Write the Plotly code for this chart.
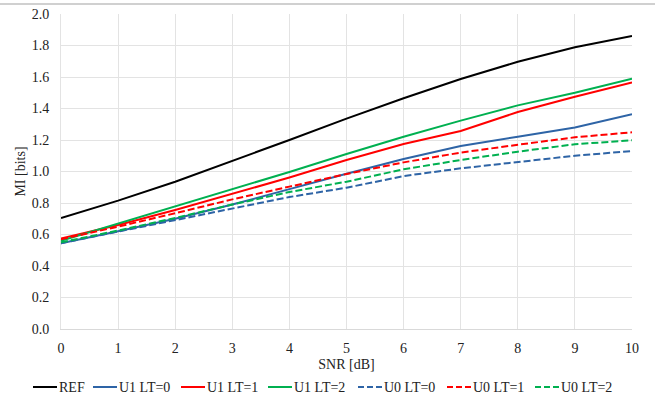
import plotly.graph_objects as go

snr = [0, 1, 2, 3, 4, 5, 6, 7, 8, 9, 10]

ref = [0.705, 0.815, 0.935, 1.065, 1.200, 1.336, 1.465, 1.587, 1.697, 1.789, 1.860]
u1_lt0 = [0.545, 0.620, 0.700, 0.790, 0.888, 0.986, 1.079, 1.162, 1.221, 1.280, 1.363]
u1_lt1 = [0.575, 0.660, 0.755, 0.858, 0.962, 1.073, 1.175, 1.257, 1.378, 1.475, 1.566]
u1_lt2 = [0.560, 0.670, 0.775, 0.885, 0.997, 1.111, 1.221, 1.323, 1.420, 1.500, 1.589]
u0_lt0 = [0.545, 0.618, 0.695, 0.768, 0.838, 0.897, 0.971, 1.020, 1.062, 1.100, 1.130]
u0_lt1 = [0.570, 0.650, 0.735, 0.823, 0.904, 0.984, 1.058, 1.120, 1.170, 1.217, 1.249]
u0_lt2 = [0.550, 0.625, 0.705, 0.790, 0.870, 0.935, 1.014, 1.073, 1.126, 1.173, 1.198]

names = ["REF", "U1 LT=0", "U1 LT=1", "U1 LT=2", "U0 LT=0", "U0 LT=1", "U0 LT=2"]
series = [ref, u1_lt0, u1_lt1, u1_lt2, u0_lt0, u0_lt1, u0_lt2]
colors = ["#000000", "#2E64A6", "#FF0000", "#00B050", "#2E64A6", "#FF0000", "#00B050"]
dashes = ["solid", "solid", "solid", "solid", "7px,3px", "7px,3px", "7px,3px"]

# layout of the drawn-in legend (pixel positions within the 668x400 figure)
PLOT_L, PLOT_W, PLOT_B, PLOT_H = 61, 571, 329, 315
legend_px = [33, 93, 181, 268, 358, 447, 535]
legend_py = 387
legend_len = 24

fig = go.Figure()
for n, s, c, d in zip(names, series, colors, dashes):
    fig.add_trace(go.Scatter(x=snr, y=s, name=n, mode="lines",
                             line=dict(color=c, width=2, dash=d)))

fam = "Liberation Serif"
tf = dict(family=fam, size=14, color="#222222")

shapes = [dict(type="line", xref="paper", yref="paper",
               x0=-61/571, x1=(655-61)/571, y0=1+10/315, y1=1+10/315,
               line=dict(color="#D0D0D0", width=2))]
annotations = []
ly = (PLOT_B - legend_py) / PLOT_H
for n, c, d, px in zip(names, colors, dashes, legend_px):
    x0 = (px - PLOT_L) / PLOT_W
    x1 = (px + legend_len - PLOT_L) / PLOT_W
    shapes.append(dict(type="line", xref="paper", yref="paper", x0=x0, x1=x1,
                       y0=ly, y1=ly, line=dict(color=c, width=2,
                                               dash="6px,3px" if d != "solid" else "solid")))
    annotations.append(dict(xref="paper", yref="paper", x=(px + legend_len + 1 - PLOT_L) / PLOT_W,
                            y=ly, text=n, showarrow=False, xanchor="left", yanchor="middle",
                            font=tf, borderpad=0))

fig.update_layout(
    template="none",
    width=668, height=400,
    margin=dict(l=61, r=36, t=14, b=71, autoexpand=False),
    paper_bgcolor="white", plot_bgcolor="white",
    font=tf,
    showlegend=False,
    xaxis=dict(range=[0, 10], dtick=1, tick0=0, showgrid=True, gridcolor="#E3E3E3",
               gridwidth=1, zeroline=False, showline=True, linecolor="#D9D9D9",
               mirror=False, tickfont=tf,
               title=dict(text="SNR [dB]", standoff=4, font=tf),
               ticks="", ticklabelstandoff=6),
    yaxis=dict(range=[0, 2.0], dtick=0.2, tick0=0, tickformat=".1f", showgrid=True,
               gridcolor="#E3E3E3", gridwidth=1, zeroline=False, showline=True,
               linecolor="#E3E3E3", tickfont=tf,
               title=dict(text="MI [bits]", standoff=2, font=tf),
               ticks="", ticklabelstandoff=8),
    shapes=shapes,
    annotations=annotations,
)

fig.write_html("out.html", config={"displayModeBar": False},
               post_script="document.body.style.margin='0';document.body.style.padding='0';")
